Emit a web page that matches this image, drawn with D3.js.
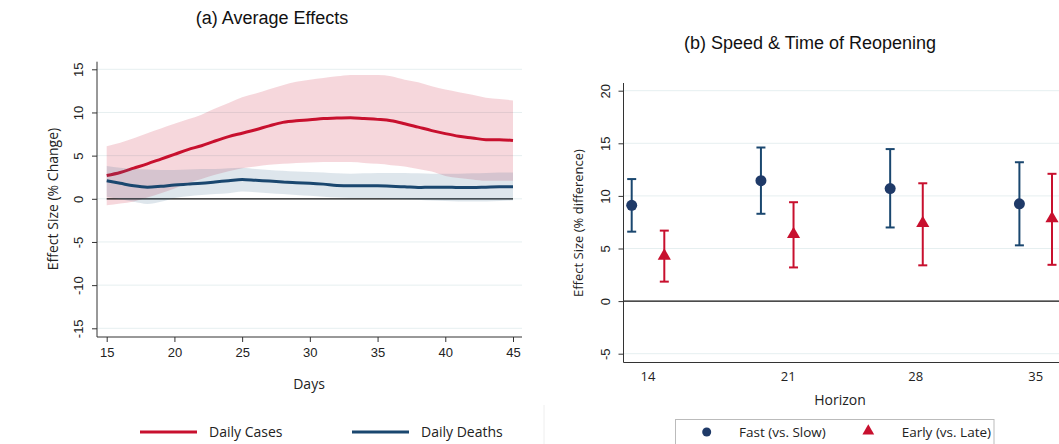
<!DOCTYPE html>
<html>
<head>
<meta charset="utf-8">
<script src="https://cdn.jsdelivr.net/npm/d3@7"></script>
<style>
  body { margin: 0; background: #fff; }
  svg { display: block; font-family: "Open Sans", "Noto Sans", sans-serif; }
  .title { font-family: "Liberation Sans", Arial, sans-serif; font-size: 18px; fill: #111; }
  .tick text { font-size: 13px; fill: #222; }
</style>
</head>
<body>
<div id="chart"></div>
<script>
// ---- panel (a) data: days 15..45
const days = d3.range(15, 46);
const casesMean  = [2.7, 3.05, 3.55, 4.05, 4.6, 5.15, 5.7, 6.15, 6.7, 7.2, 7.6, 8.0, 8.45, 8.85, 9.05, 9.15,
                    9.3, 9.35, 9.4, 9.3, 9.2, 9.05, 8.7, 8.3, 7.9, 7.55, 7.25, 7.05, 6.85, 6.85, 6.75];
const casesUpper = [6.1, 6.5, 7.0, 7.6, 8.15, 8.7, 9.2, 9.75, 10.45, 11.1, 11.75, 12.2, 12.7, 13.15, 13.55, 13.8,
                    14.0, 14.2, 14.35, 14.35, 14.35, 14.2, 13.8, 13.5, 13.05, 12.65, 12.35, 12.05, 11.7, 11.55, 11.4];
const casesLower = [-0.75, -0.55, -0.3, 0.15, 0.65, 1.2, 1.8, 2.3, 2.8, 3.2, 3.55, 3.75, 3.95, 4.05, 4.15, 4.2,
                    4.25, 4.25, 4.25, 4.15, 4.05, 3.9, 3.75, 3.45, 3.15, 2.65, 2.4, 2.25, 2.1, 2.1, 2.1];
const deathsMean  = [2.1, 1.8, 1.5, 1.35, 1.45, 1.6, 1.7, 1.8, 1.95, 2.1, 2.25, 2.15, 2.05, 1.95, 1.85, 1.8,
                     1.7, 1.55, 1.5, 1.5, 1.5, 1.45, 1.4, 1.3, 1.35, 1.35, 1.3, 1.3, 1.35, 1.4, 1.4];
const deathsUpper = [3.8, 3.6, 3.45, 3.4, 3.35, 3.35, 3.4, 3.45, 3.45, 3.55, 3.6, 3.45, 3.35, 3.25, 3.15, 3.1,
                     3.05, 2.95, 2.9, 2.95, 3.0, 3.0, 3.0, 2.95, 2.9, 2.9, 2.9, 2.95, 3.0, 3.05, 3.05];
const deathsLower = [0.25, -0.05, -0.35, -0.6, -0.35, 0.1, 0.3, 0.45, 0.55, 0.65, 0.85, 0.75, 0.65, 0.55, 0.45, 0.35,
                     0.25, 0.15, 0.1, 0.1, 0.1, 0.0, -0.05, -0.1, -0.2, -0.25, -0.3, -0.3, -0.3, -0.25, -0.2];
const yTicksA = [-15, -10, -5, 0, 5, 10, 15];
const xTicksA = [15, 20, 25, 30, 35, 40, 45];

// ---- panel (b) data
const horizons = [14, 21, 28, 35];
const horizonLabelAt = [14, 21.6, 28.5, 35];
const fastEst = [9.1, 11.45, 10.7, 9.25];
const fastHi  = [11.6, 14.6, 14.45, 13.2];
const fastLo  = [6.6, 8.3, 7.0, 5.3];
const earlyEst = [4.3, 6.35, 7.4, 7.85];
const earlyHi  = [6.7, 9.4, 11.2, 12.1];
const earlyLo  = [1.85, 3.2, 3.4, 3.45];
const yTicksB = [-5, 0, 5, 10, 15, 20];

const red = "#c8102e", blue = "#1a476f", navy = "#1f3a68", grid = "#e6eff0";
const plain = d => String(d);   // stata uses a hyphen, not U+2212

const W = 1059, H = 444;
const svg = d3.select("#chart").append("svg").attr("width", W).attr("height", H);

// ================= panel (a) =================
const xA = d3.scaleLinear().domain([15, 45]).range([106.7, 513]);
const yA = d3.scaleLinear().domain([-15, 15]).range([328.3, 69.3]);
const gA = svg.append("g");

gA.append("text").attr("class", "title").attr("x", 272).attr("y", 23.5)
  .attr("text-anchor", "middle").text("(a) Average Effects");

gA.append("g").selectAll("line").data(yTicksA).enter().append("line")
  .attr("x1", 97).attr("x2", 522).attr("y1", d => yA(d)).attr("y2", d => yA(d))
  .attr("stroke", grid).attr("stroke-width", 1);

const areaA = (lo, hi) => d3.area()
  .x((d, i) => xA(days[i])).y0((d, i) => yA(lo[i])).y1((d, i) => yA(hi[i]))
  .curve(d3.curveMonotoneX)(days);
const lineA = vals => d3.line().x((d, i) => xA(days[i])).y((d, i) => yA(vals[i]))
  .curve(d3.curveMonotoneX)(days);

gA.append("path").attr("d", areaA(casesLower, casesUpper)).attr("fill", red).attr("fill-opacity", 0.17);
gA.append("line").attr("x1", xA(15)).attr("x2", xA(45)).attr("y1", yA(0)).attr("y2", yA(0))
  .attr("stroke", "#111").attr("stroke-width", 1.2);
gA.append("path").attr("d", lineA(casesMean)).attr("fill", "none").attr("stroke", red).attr("stroke-width", 3);
gA.append("path").attr("d", areaA(deathsLower, deathsUpper)).attr("fill", "#3d6a8f").attr("fill-opacity", 0.17);
gA.append("path").attr("d", lineA(deathsMean)).attr("fill", "none").attr("stroke", blue).attr("stroke-width", 3);

const axA_y = gA.append("g").attr("transform", "translate(97,0)")
  .call(d3.axisLeft(yA).tickValues(yTicksA).tickFormat(plain).tickSize(5).tickPadding(4));
axA_y.select(".domain").attr("d", "M0,61.7V337").attr("stroke", "#333");
axA_y.selectAll(".tick line").attr("stroke", "#333");
axA_y.selectAll(".tick text").attr("transform", "rotate(-90)").attr("x", 0).attr("y", -14)
  .attr("dy", 0).attr("text-anchor", "middle");

const axA_x = gA.append("g").attr("transform", "translate(0,337)")
  .call(d3.axisBottom(xA).tickValues(xTicksA).tickFormat(plain).tickSize(5).tickPadding(6));
axA_x.select(".domain").attr("d", "M97,0H522").attr("stroke", "#333");
axA_x.selectAll(".tick line").attr("stroke", "#333");

gA.append("text").attr("transform", "translate(58,199) rotate(-90)").attr("text-anchor", "middle")
  .attr("font-size", 14).attr("fill", "#222").text("Effect Size (% Change)");
gA.append("text").attr("x", 309).attr("y", 389).attr("text-anchor", "middle")
  .attr("font-size", 14).attr("fill", "#222").text("Days");

// legend (a)
const legA = [{name: "Daily Cases", color: red, x: 140}, {name: "Daily Deaths", color: blue, x: 352}];
const lg = gA.append("g").selectAll("g").data(legA).enter().append("g");
lg.append("line").attr("x1", d => d.x).attr("x2", d => d.x + 57).attr("y1", 432).attr("y2", 432)
  .attr("stroke", d => d.color).attr("stroke-width", 3);
lg.append("text").attr("x", d => d.x + 69).attr("y", 437).attr("font-size", 14).attr("fill", "#222")
  .text(d => d.name);
gA.append("line").attr("x1", 544).attr("x2", 544).attr("y1", 405).attr("y2", 444)
  .attr("stroke", "#eeeeee");

// ================= panel (b) =================
const xB = d3.scaleLinear().domain([14, 35]).range([648, 1035.7]);
const off = 16.3;
const yB = d3.scaleLinear().domain([-5, 20]).range([353.7, 90.7]);
const gB = svg.append("g");

gB.append("text").attr("class", "title").attr("x", 810).attr("y", 48.5)
  .attr("text-anchor", "middle").text("(b) Speed & Time of Reopening");

gB.append("g").selectAll("line").data(yTicksB.filter(d => d !== 0)).enter().append("line")
  .attr("x1", 624).attr("x2", W).attr("y1", d => yB(d)).attr("y2", d => yB(d))
  .attr("stroke", grid).attr("stroke-width", 1);
gB.append("line").attr("x1", 624).attr("x2", W).attr("y1", yB(0)).attr("y2", yB(0))
  .attr("stroke", "#111").attr("stroke-width", 1.2);

function errorBars(est, hi, lo, dx, color) {
  const g = gB.append("g");
  const data = horizons.map((h, i) => ({h, est: est[i], hi: hi[i], lo: lo[i]}));
  const sel = g.selectAll("g").data(data).enter().append("g")
    .attr("transform", d => `translate(${xB(d.h) + dx},0)`);
  sel.append("line").attr("y1", d => yB(d.hi)).attr("y2", d => yB(d.lo))
    .attr("stroke", color).attr("stroke-width", 2);
  sel.append("line").attr("x1", -4.5).attr("x2", 4.5).attr("y1", d => yB(d.hi)).attr("y2", d => yB(d.hi))
    .attr("stroke", color).attr("stroke-width", 2);
  sel.append("line").attr("x1", -4.5).attr("x2", 4.5).attr("y1", d => yB(d.lo)).attr("y2", d => yB(d.lo))
    .attr("stroke", color).attr("stroke-width", 2);
  return sel;
}

errorBars(fastEst, fastHi, fastLo, -off, blue)
  .append("circle").attr("cy", d => yB(d.est)).attr("r", 5.5).attr("fill", navy);
errorBars(earlyEst, earlyHi, earlyLo, off, red)
  .append("path").attr("d", d3.symbol(d3.symbolTriangle, 75))
  .attr("transform", d => `translate(0,${yB(d.est)})`).attr("fill", red);

const axB_y = gB.append("g").attr("transform", "translate(623.5,0)")
  .call(d3.axisLeft(yB).tickValues(yTicksB).tickFormat(plain).tickSize(5).tickPadding(4));
axB_y.select(".domain").attr("d", "M0,83V362.5").attr("stroke", "#333");
axB_y.selectAll(".tick line").attr("stroke", "#333");
axB_y.selectAll(".tick text").attr("transform", "rotate(-90)").attr("x", 0).attr("y", -14)
  .attr("dy", 0).attr("text-anchor", "middle");

gB.append("line").attr("x1", 623.5).attr("x2", W).attr("y1", 362.5).attr("y2", 362.5)
  .attr("stroke", "#333");
gB.append("g").selectAll("text").data(horizons).enter().append("text")
  .attr("x", (d, i) => xB(horizonLabelAt[i])).attr("y", 381).attr("text-anchor", "middle")
  .attr("font-size", 13).attr("fill", "#222").text(d => d);

gB.append("text").attr("transform", "translate(583,223) rotate(-90)").attr("text-anchor", "middle")
  .attr("font-size", 13).attr("fill", "#222").text("Effect Size (% difference)");
gB.append("text").attr("x", 840).attr("y", 405).attr("text-anchor", "middle")
  .attr("font-size", 14).attr("fill", "#222").text("Horizon");

// legend (b)
gB.append("rect").attr("x", 675.5).attr("y", 419.5).attr("width", 318.5).attr("height", 30)
  .attr("fill", "#fff").attr("stroke", "#bbb");
gB.append("circle").attr("cx", 706.7).attr("cy", 432).attr("r", 4.5).attr("fill", navy);
gB.append("text").attr("x", 739).attr("y", 437).attr("font-size", 13.5).attr("fill", "#222").text("Fast (vs. Slow)");
gB.append("path").attr("d", d3.symbol(d3.symbolTriangle, 60)).attr("transform", "translate(868.3,431)")
  .attr("fill", red);
gB.append("text").attr("x", 901.7).attr("y", 437).attr("font-size", 13.5).attr("fill", "#222").text("Early (vs. Late)");
</script>
</body>
</html>
